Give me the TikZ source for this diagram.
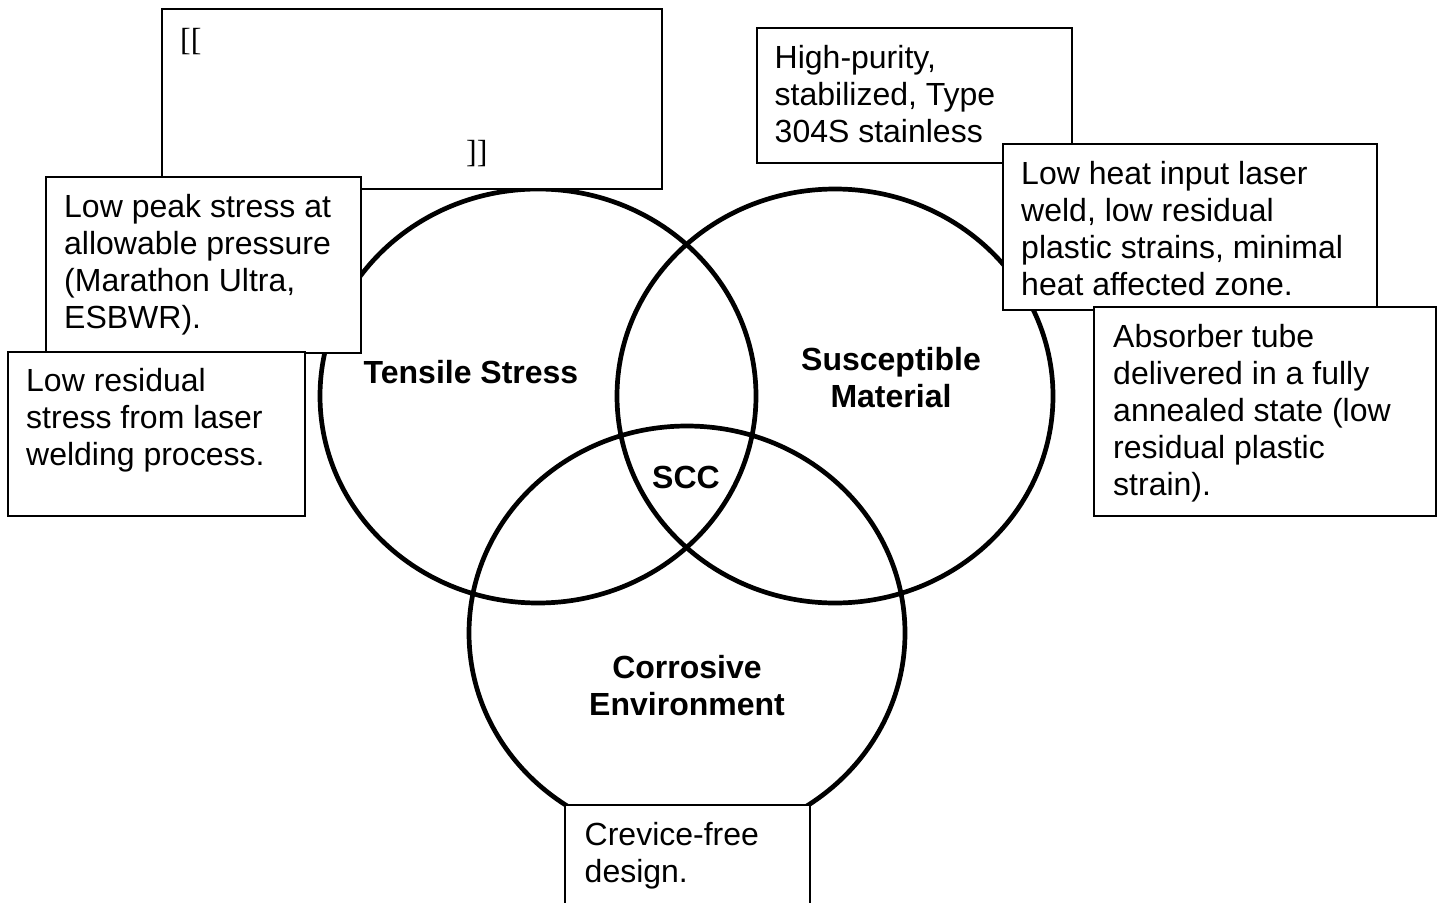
\documentclass[tikz,border=0pt]{standalone}
\usepackage{fontspec}
\setmainfont{Liberation Sans}
\newfontfamily\brackfont{Liberation Serif}
\usetikzlibrary{shapes.geometric}
\begin{document}
\begin{tikzpicture}[x=1pt,y=-1pt,
  ring/.style={draw=black, line width=4.7pt, ellipse, minimum width=436pt, minimum height=414pt, inner sep=0pt},
  card/.style={draw=black, fill=white, line width=1.7pt, anchor=north west, inner sep=0pt},
  txt/.style={anchor=base west, inner sep=0pt, font=\fontsize{32}{37}\selectfont},
  lbl/.style={anchor=base, inner sep=0pt, font=\bfseries\fontsize{32}{37}\selectfont}]
\useasboundingbox (0,0) rectangle (1442,902);
% circles
\node[ring] (ts) at (538,396) {};
\node[ring] (sm) at (835,396) {};
\node[ring] (ce) at (687,633) {};
% labels in circles
\node[lbl] (tsl) at (471,383) {Tensile Stress};
\node[lbl] (sml) at (891,370) {\parbox[t]{300pt}{\centering Susceptible\\Material}};
\node[lbl] (scc) at (686,488) {SCC};
\node[lbl] (cel) at (687,678) {\parbox[t]{300pt}{\centering Corrosive\\Environment}};
% top box
\node[card, minimum width=500pt, minimum height=180pt] (tb) at (161,8) {};
\node[txt] (tbo) at (180,50) {\brackfont[[};
\node[txt] (tbc) at (466,162) {\brackfont]]};
% low peak stress
\node[card, minimum width=315pt, minimum height=176pt] (lp) at (45,176) {};
\node[txt] (lpt) at (64,217) {\parbox[t]{320pt}{\raggedright Low peak stress at\\allowable pressure\\(Marathon Ultra,\\ESBWR).}};
% low residual stress
\node[card, minimum width=297pt, minimum height=164pt] (lr) at (7,351) {};
\node[txt] (lrt) at (26,391) {\parbox[t]{320pt}{\raggedright Low residual\\stress from laser\\welding process.}};
% high purity
\node[card, minimum width=315pt, minimum height=135pt] (hp) at (756,27) {};
\node[txt] (hpt) at (774.5,68.5) {\parbox[t]{320pt}{\raggedright High-purity,\\stabilized, Type\\304S stainless}};
% low heat input
\node[card, minimum width=374pt, minimum height=166pt] (lh) at (1002,143) {};
\node[txt] (lht) at (1021,184.5) {\parbox[t]{380pt}{\raggedright Low heat input laser\\weld, low residual\\plastic strains, minimal\\heat affected zone.}};
% absorber tube
\node[card, minimum width=342pt, minimum height=209pt] (ab) at (1093,306) {};
\node[txt] (abt) at (1113,347) {\parbox[t]{340pt}{\raggedright Absorber tube\\delivered in a fully\\annealed state (low\\residual plastic\\strain).}};
% crevice free
\node[card, minimum width=245pt, minimum height=110pt] (cf) at (564,804) {};
\node[txt] (cft) at (584.5,845) {\parbox[t]{240pt}{\raggedright Crevice-free\\design.}};
\end{tikzpicture}
\end{document}
